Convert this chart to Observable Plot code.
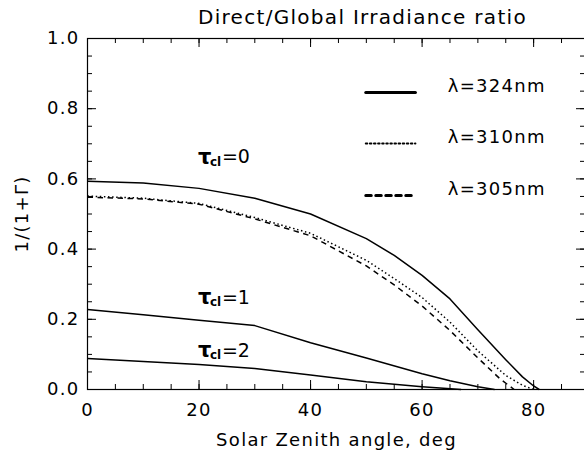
<!DOCTYPE html>
<html>
<head>
<meta charset="utf-8">
<script src="https://cdn.jsdelivr.net/npm/d3@7"></script>
<script src="https://cdn.jsdelivr.net/npm/@observablehq/plot@0.6"></script>
<style>
  html, body { margin: 0; padding: 0; background: #fff; overflow: hidden; }
  #chart text { letter-spacing: 1.3px; }
  #chart g.tau text { letter-spacing: 0; }
</style>
</head>
<body>
<div id="chart"></div>
<script>
// Solar zenith angle (deg) and direct/global ratio 1/(1+Γ) for each curve.
// Clear sky (τcl = 0), three wavelengths.
const sza324 = [0, 10, 20, 30, 40, 50, 55, 60, 65, 70, 75, 78, 80, 81];
const ratio324 = [0.593, 0.588, 0.573, 0.545, 0.500, 0.430, 0.382, 0.325, 0.258, 0.170, 0.085, 0.036, 0.010, 0.0];

const sza310 = [0, 10, 20, 30, 40, 50, 55, 60, 65, 70, 75, 78, 80];
const ratio310 = [0.551, 0.545, 0.530, 0.490, 0.445, 0.368, 0.316, 0.262, 0.192, 0.110, 0.040, 0.012, 0.0];

const sza305 = [0, 10, 20, 30, 40, 50, 55, 60, 65, 70, 74, 76.5];
const ratio305 = [0.548, 0.543, 0.528, 0.486, 0.438, 0.352, 0.298, 0.238, 0.168, 0.090, 0.030, 0.0];

// Cloudy sky, λ = 324 nm.
const szaCloud1 = [0, 10, 20, 30, 40, 50, 60, 65, 70, 73];
const ratioCloud1 = [0.228, 0.213, 0.197, 0.182, 0.133, 0.090, 0.045, 0.025, 0.008, 0.0];

const szaCloud2 = [0, 10, 20, 30, 40, 50, 60, 67];
const ratioCloud2 = [0.088, 0.080, 0.071, 0.060, 0.041, 0.022, 0.008, 0.0];

// Axis ticks
const xMajor = [0, 20, 40, 60, 80];
const xMinor = d3.range(0, 90, 5);
const yMajor = [0, 0.2, 0.4, 0.6, 0.8, 1.0];
const yMinor = d3.range(0, 1.0001, 0.05);

// Legend entries and cloud optical depth labels
const legendLabels = ["λ=324nm", "λ=310nm", "λ=305nm"];
const legendDash = [null, "1.5,2.6", "5.5,4.5"];
const tauValues = ["0", "1", "2"];

const titleText = "Direct/Global Irradiance ratio";
const xLabel = "Solar Zenith angle, deg";
const yLabel = "1/(1+Γ)";

// ---- layout ----
const W = 584, H = 454;
const mL = 87, mR = -1, mT = 38, mB = 65;
const FW = W - mL - mR, FH = H - mT - mB;
const FONT = "'DejaVu Sans', sans-serif";
const majorLen = 9, minorLen = 5;

const toRows = (xs, ys) => xs.map((x, i) => ({x, y: ys[i]}));

const curve = (xs, ys, dash) => Plot.line(toRows(xs, ys), {
  x: "x", y: "y", stroke: "black", strokeWidth: 1.5,
  strokeDasharray: dash ?? undefined, strokeLinecap: "butt"
});

// legend placement (data units)
const legX0 = 49.9, legX1 = 58.8, legTextX = 64.6;
const legRowY = [0.846, 0.701, 0.553];
const legTextY = [0.865, 0.718, 0.570];

// τcl label placement (data units)
const tauX = 19.8;
const tauY = [0.663, 0.262, 0.111];

const legendMarks = legendLabels.flatMap((lab, i) => [
  Plot.line([{x: legX0, y: legRowY[i]}, {x: legX1, y: legRowY[i]}], {
    x: "x", y: "y", stroke: "black", strokeWidth: i === 1 ? 2 : 3,
    strokeDasharray: legendDash[i] ?? undefined
  }),
  Plot.text([lab], {
    x: legTextX, y: legTextY[i], text: d => d, textAnchor: "start",
    fontSize: 18
  })
]);

const tauMarks = tauValues.flatMap((v, i) => [
  Plot.text(["τ"], {x: tauX, y: tauY[i], text: d => d, textAnchor: "start", fontSize: 21, fontWeight: "bold", className: "tau"}),
  Plot.text(["cl"], {x: tauX, y: tauY[i], text: d => d, textAnchor: "start", fontSize: 12, fontWeight: "bold", dx: 12, dy: 5, className: "tau"}),
  Plot.text(["=" + v], {x: tauX, y: tauY[i], text: d => d, textAnchor: "start", fontSize: 19, dx: 24, className: "tau"})
]);

const chart = Plot.plot({
  width: W, height: H,
  marginLeft: mL, marginRight: mR, marginTop: mT, marginBottom: mB,
  x: {domain: [0, 89.3]},
  y: {domain: [0, 1]},
  style: {fontFamily: FONT, fontSize: "18px", background: "white", color: "black", overflow: "hidden"},
  marks: [
    // curves
    curve(sza324, ratio324, null),
    curve(sza310, ratio310, "1.5,2.6"),
    curve(sza305, ratio305, "5.5,4.5"),
    curve(szaCloud1, ratioCloud1, null),
    curve(szaCloud2, ratioCloud2, null),

    // inward ticks on all four sides
    Plot.tickX(xMinor, {x: d => d, insetTop: FH - minorLen, stroke: "black"}),
    Plot.tickX(xMajor, {x: d => d, insetTop: FH - majorLen, stroke: "black"}),
    Plot.tickX(xMinor, {x: d => d, insetBottom: FH - minorLen, stroke: "black"}),
    Plot.tickX(xMajor, {x: d => d, insetBottom: FH - majorLen, stroke: "black"}),
    Plot.tickY(yMinor, {y: d => d, insetRight: FW - minorLen, stroke: "black"}),
    Plot.tickY(yMajor, {y: d => d, insetRight: FW - majorLen, stroke: "black"}),
    Plot.tickY(yMinor, {y: d => d, insetLeft: FW - minorLen, stroke: "black"}),
    Plot.tickY(yMajor, {y: d => d, insetLeft: FW - majorLen, stroke: "black"}),

    Plot.frame({stroke: "black", strokeWidth: 1.2}),

    // tick labels
    Plot.axisX(xMajor, {tickSize: 0, tickPadding: 14, label: null, fontSize: 18}),
    Plot.axisY(yMajor, {tickSize: 0, tickPadding: 8, label: null, fontSize: 18, tickFormat: d3.format(".1f")}),

    // axis titles and chart title
    Plot.text([xLabel], {frameAnchor: "bottom", dy: 56, text: d => d, fontSize: 18}),
    Plot.text([yLabel], {frameAnchor: "left", dx: -65, rotate: -90, textAnchor: "middle", text: d => d, fontSize: 18}),
    Plot.text([titleText], {x: 49.3, frameAnchor: "top", dy: -29, text: d => d, fontSize: 20}),

    ...legendMarks,
    ...tauMarks
  ]
});

document.getElementById("chart").appendChild(chart);
</script>
</body>
</html>
